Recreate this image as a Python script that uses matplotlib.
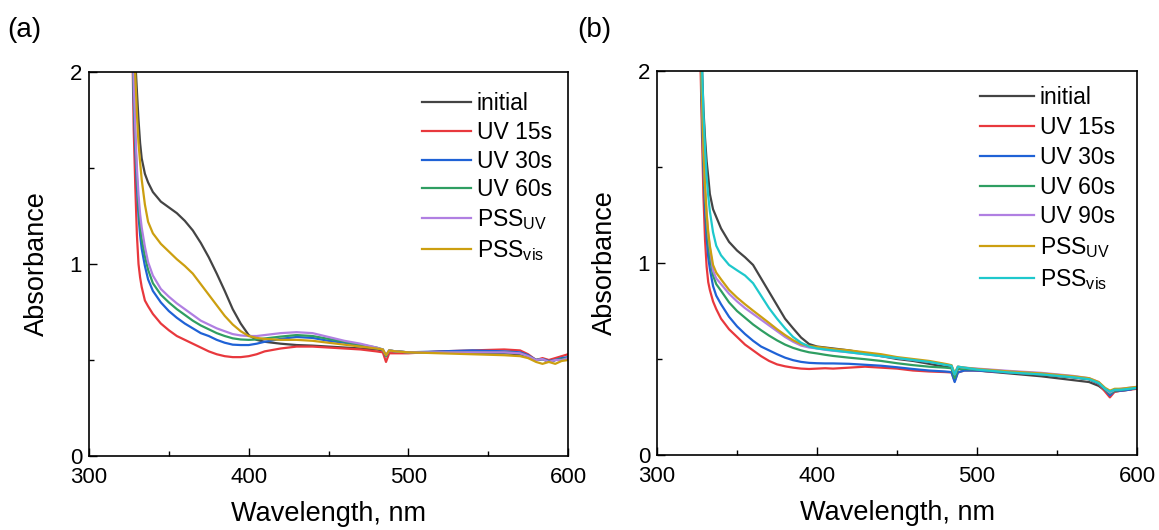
import matplotlib
matplotlib.use("Agg")
import matplotlib.pyplot as plt

# -------------------------
# STYLE
# -------------------------
plt.rcParams['font.family'] = ['Liberation Sans', 'DejaVu Sans']
plt.rcParams['mathtext.fontset'] = 'custom'
plt.rcParams['mathtext.rm'] = 'Liberation Sans'
plt.rcParams['mathtext.it'] = 'Liberation Sans'

# -------------------------
# DATA: panel (a)
# -------------------------
wl_a = [325, 327, 328, 329, 330, 331, 332, 333, 335, 337, 340, 345, 350, 355,
        360, 365, 370, 375, 380, 385, 390, 395, 400, 405, 410, 420, 430, 440,
        450, 460, 470, 480, 484, 486, 488, 492, 500, 520, 540, 560, 570, 575,
        580, 584, 588, 592, 596, 600]

initial_a = [3.0, 2.6, 2.3, 2.06, 1.9, 1.75, 1.63, 1.55, 1.47, 1.425, 1.375, 1.325, 1.295, 1.265,
             1.225, 1.175, 1.11, 1.035, 0.95, 0.86, 0.765, 0.69, 0.63, 0.605, 0.595, 0.585, 0.578, 0.575,
             0.57, 0.565, 0.56, 0.555, 0.55, 0.52, 0.545, 0.545, 0.54, 0.54, 0.535, 0.535, 0.53, 0.52,
             0.50, 0.505, 0.49, 0.50, 0.505, 0.51]
uv15_a = [3.0, 2.2, 1.7, 1.4, 1.15, 1.0, 0.93, 0.88, 0.81, 0.78, 0.74, 0.69, 0.655, 0.625,
          0.605, 0.585, 0.565, 0.545, 0.53, 0.52, 0.515, 0.515, 0.52, 0.53, 0.545, 0.56, 0.57, 0.57,
          0.565, 0.56, 0.555, 0.545, 0.54, 0.49, 0.535, 0.535, 0.535, 0.545, 0.55, 0.555, 0.55, 0.53,
          0.50, 0.51, 0.50, 0.51, 0.52, 0.53]
uv30_a = [3.0, 2.3, 1.85, 1.6, 1.4, 1.25, 1.15, 1.08, 0.99, 0.92, 0.86, 0.80, 0.755, 0.72,
          0.69, 0.665, 0.64, 0.625, 0.605, 0.59, 0.58, 0.578, 0.578, 0.585, 0.595, 0.61, 0.62, 0.615,
          0.60, 0.59, 0.575, 0.56, 0.555, 0.52, 0.55, 0.545, 0.54, 0.545, 0.55, 0.545, 0.54, 0.525,
          0.50, 0.505, 0.495, 0.50, 0.51, 0.515]
uv60_a = [3.0, 2.3, 1.9, 1.65, 1.45, 1.3, 1.2, 1.13, 1.04, 0.97, 0.90, 0.84, 0.80, 0.765,
          0.735, 0.705, 0.68, 0.66, 0.64, 0.625, 0.613, 0.607, 0.605, 0.607, 0.612, 0.622, 0.63, 0.625,
          0.61, 0.595, 0.58, 0.565, 0.555, 0.52, 0.55, 0.545, 0.54, 0.54, 0.54, 0.54, 0.535, 0.52,
          0.50, 0.505, 0.49, 0.50, 0.505, 0.51]
pssuv_a = [3.0, 2.3, 1.95, 1.7, 1.5, 1.36, 1.26, 1.19, 1.09, 1.01, 0.94, 0.87, 0.83, 0.795,
           0.765, 0.735, 0.705, 0.685, 0.665, 0.65, 0.635, 0.628, 0.625, 0.625, 0.63, 0.64, 0.645, 0.64,
           0.62, 0.60, 0.585, 0.565, 0.555, 0.525, 0.55, 0.545, 0.54, 0.54, 0.54, 0.54, 0.535, 0.52,
           0.50, 0.505, 0.49, 0.50, 0.50, 0.51]
pssvis_a = [3.0, 2.5, 2.2, 1.98, 1.78, 1.63, 1.53, 1.44, 1.31, 1.22, 1.16, 1.105, 1.065, 1.025,
            0.99, 0.95, 0.895, 0.84, 0.785, 0.73, 0.685, 0.65, 0.625, 0.615, 0.61, 0.605, 0.605, 0.60,
            0.59, 0.58, 0.57, 0.56, 0.555, 0.525, 0.55, 0.545, 0.54, 0.535, 0.53, 0.525, 0.52, 0.51,
            0.49, 0.48, 0.49, 0.48, 0.495, 0.50]

# -------------------------
# DATA: panel (b)
# -------------------------
wl_b = [325, 327, 328, 329, 330, 331, 332, 333, 335, 337, 340, 345, 350, 355,
        360, 365, 370, 375, 380, 385, 390, 395, 400, 405, 410, 420, 430, 440,
        450, 460, 470, 480, 484, 486, 488, 492, 500, 520, 540, 560, 570, 576,
        580, 583, 586, 590, 595, 600]

initial_b = [3.0, 2.4, 2.05, 1.8, 1.65, 1.53, 1.45, 1.36, 1.28, 1.24, 1.18, 1.11, 1.065, 1.03,
             0.99, 0.92, 0.85, 0.78, 0.71, 0.66, 0.612, 0.578, 0.565, 0.56, 0.555, 0.545, 0.53, 0.515,
             0.50, 0.49, 0.475, 0.46, 0.455, 0.41, 0.45, 0.45, 0.44, 0.425, 0.41, 0.39, 0.38, 0.36,
             0.335, 0.32, 0.33, 0.335, 0.34, 0.35]
uv15_b = [3.0, 2.1, 1.7, 1.35, 1.12, 0.98, 0.90, 0.86, 0.80, 0.76, 0.71, 0.655, 0.615, 0.575,
          0.545, 0.515, 0.49, 0.472, 0.462, 0.455, 0.45, 0.448, 0.45, 0.452, 0.45, 0.455, 0.46, 0.455,
          0.45, 0.44, 0.435, 0.432, 0.43, 0.385, 0.43, 0.44, 0.44, 0.43, 0.42, 0.405, 0.395, 0.37,
          0.33, 0.30, 0.33, 0.335, 0.34, 0.345]
uv30_b = [3.0, 2.2, 1.8, 1.5, 1.28, 1.13, 1.03, 0.97, 0.88, 0.83, 0.785, 0.72, 0.67, 0.63,
          0.595, 0.565, 0.545, 0.525, 0.507, 0.494, 0.485, 0.48, 0.478, 0.477, 0.477, 0.475, 0.47, 0.465,
          0.457, 0.448, 0.44, 0.435, 0.432, 0.38, 0.43, 0.44, 0.44, 0.43, 0.42, 0.405, 0.395, 0.372,
          0.34, 0.31, 0.335, 0.335, 0.34, 0.35]
uv60_b = [3.0, 2.25, 1.85, 1.55, 1.35, 1.2, 1.1, 1.03, 0.935, 0.89, 0.855, 0.795, 0.75, 0.715,
          0.68, 0.65, 0.622, 0.597, 0.575, 0.558, 0.545, 0.535, 0.529, 0.522, 0.516, 0.507, 0.499, 0.49,
          0.478, 0.468, 0.46, 0.455, 0.452, 0.40, 0.448, 0.448, 0.445, 0.432, 0.42, 0.405, 0.395, 0.375,
          0.34, 0.32, 0.335, 0.34, 0.345, 0.35]
uv90_b = [3.0, 2.3, 1.9, 1.6, 1.4, 1.25, 1.15, 1.08, 0.96, 0.92, 0.89, 0.84, 0.80, 0.765,
          0.735, 0.705, 0.675, 0.645, 0.615, 0.59, 0.57, 0.56, 0.555, 0.548, 0.543, 0.535, 0.525, 0.515,
          0.505, 0.495, 0.485, 0.472, 0.466, 0.42, 0.46, 0.455, 0.45, 0.438, 0.428, 0.412, 0.40, 0.38,
          0.345, 0.325, 0.34, 0.345, 0.35, 0.355]
pssuv_b = [3.0, 2.3, 1.9, 1.6, 1.4, 1.26, 1.16, 1.09, 0.99, 0.95, 0.915, 0.86, 0.82, 0.785,
           0.752, 0.72, 0.688, 0.655, 0.625, 0.598, 0.578, 0.568, 0.563, 0.558, 0.552, 0.545, 0.535, 0.525,
           0.51, 0.50, 0.49, 0.475, 0.468, 0.425, 0.46, 0.455, 0.448, 0.435, 0.425, 0.41, 0.40, 0.38,
           0.35, 0.335, 0.345, 0.345, 0.35, 0.355]
pssvis_b = [3.0, 2.4, 2.05, 1.78, 1.6, 1.45, 1.35, 1.27, 1.16, 1.09, 1.04, 0.99, 0.962, 0.935,
            0.895, 0.83, 0.765, 0.71, 0.66, 0.615, 0.585, 0.565, 0.555, 0.55, 0.545, 0.535, 0.525, 0.515,
            0.505, 0.495, 0.485, 0.47, 0.465, 0.42, 0.46, 0.455, 0.445, 0.43, 0.42, 0.405, 0.395, 0.375,
            0.345, 0.33, 0.34, 0.34, 0.345, 0.35]

LABELS_A = ["initial", "UV 15s", "UV 30s", "UV 60s",
            r"PSS$_{\mathrm{UV}}$", r"PSS$_{\mathrm{vis}}$"]
LABELS_B = ["initial", "UV 15s", "UV 30s", "UV 60s", "UV 90s",
            r"PSS$_{\mathrm{UV}}$", r"PSS$_{\mathrm{vis}}$"]

BLACK = "#444444"
RED = "#e8383d"
BLUE = "#1f62d6"
GREEN = "#2f9e62"
PURPLE = "#b07fe2"
GOLD = "#cc9f10"
CYAN = "#1ec8cc"


def style_axes(ax):
    ax.set_xlim(300, 600)
    ax.set_ylim(0, 2)
    ax.set_xticks([300, 400, 500, 600])
    ax.set_xticks([350, 450, 550], minor=True)
    ax.set_yticks([0, 1, 2])
    ax.set_yticks([0.5, 1.5], minor=True)
    ax.tick_params(which="both", direction="in", top=False, right=False,
                   labelsize=16, width=1.0)
    ax.tick_params(which="major", length=6, pad=5)
    ax.tick_params(axis="x", which="major", pad=8)
    ax.tick_params(which="minor", length=3.5)
    for sp in ax.spines.values():
        sp.set_linewidth(1.2)
    ax.set_xlabel("Wavelength, nm", fontsize=19.5, labelpad=9)
    ax.set_ylabel("Absorbance", fontsize=19.5, labelpad=14)


# -------------------------
# PLOT
# -------------------------
fig = plt.figure(figsize=(11.59, 5.30), dpi=100)
ax_a = fig.add_axes([0.0768, 0.1396, 0.4133, 0.7245])
ax_b = fig.add_axes([0.5669, 0.1415, 0.4142, 0.7245])

series_a = [initial_a, uv15_a, uv30_a, uv60_a, pssuv_a, pssvis_a]
colors_a = [BLACK, RED, BLUE, GREEN, PURPLE, GOLD]
for ys, c, lab in zip(series_a, colors_a, LABELS_A):
    ax_a.plot(wl_a, ys, color=c, lw=1.6, label=lab)

series_b = [initial_b, uv15_b, uv30_b, uv60_b, uv90_b, pssuv_b, pssvis_b]
colors_b = [BLACK, RED, BLUE, GREEN, PURPLE, GOLD, CYAN]
for ys, c, lab in zip(series_b, colors_b, LABELS_B):
    ax_b.plot(wl_b, ys, color=c, lw=1.6, label=lab)

for ax in (ax_a, ax_b):
    style_axes(ax)

ax_a.legend(loc="upper left", bbox_to_anchor=(0.695, 0.949), frameon=False,
            fontsize=16.5, handlelength=2.15, handletextpad=0.25,
            labelspacing=0.26, borderpad=0, borderaxespad=0)
ax_b.legend(loc="upper left", bbox_to_anchor=(0.673, 0.961), frameon=False,
            fontsize=16.5, handlelength=2.35, handletextpad=0.25,
            labelspacing=0.3, borderpad=0, borderaxespad=0)

fig.text(7 / 1159, 1 - 17 / 530, "(a)", fontsize=20, va="top", ha="left")
fig.text(577 / 1159, 1 - 17 / 530, "(b)", fontsize=20, va="top", ha="left")

fig.savefig("out.png", dpi=100)
